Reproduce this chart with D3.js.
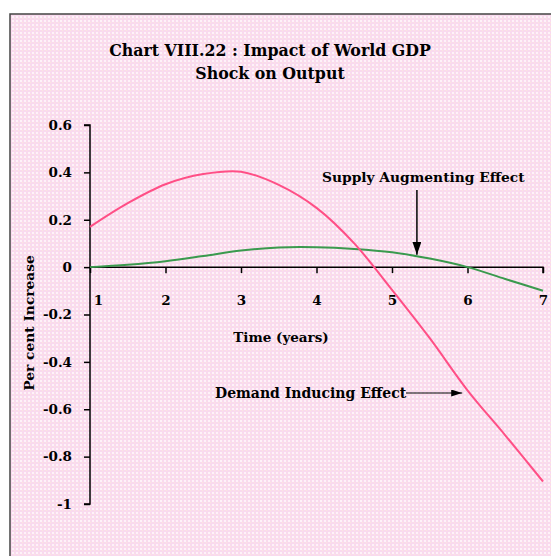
<!DOCTYPE html>
<html>
<head>
<meta charset="utf-8">
<script src="https://cdn.jsdelivr.net/npm/d3@7/dist/d3.min.js"></script>
<style>
  html, body { margin: 0; padding: 0; background: #ffffff; }
  svg { display: block; }
  text { font-family: "DejaVu Serif", "Liberation Serif", serif; font-weight: bold; fill: #000; }
</style>
</head>
<body>
<svg id="chart" width="551" height="556"></svg>
<script>
// ---- data ----
const years = [1, 1.5, 2, 2.5, 3, 3.5, 4, 4.5, 5, 5.5, 6, 6.5, 7];
const demandInducing = [0.17, 0.27, 0.35, 0.393, 0.403, 0.347, 0.25, 0.10, -0.096, -0.30, -0.52, -0.71, -0.905];
const supplyAugmenting = [0.0, 0.01, 0.025, 0.047, 0.07, 0.083, 0.084, 0.077, 0.063, 0.036, 0.0, -0.05, -0.10];
const xTicks = [1, 2, 3, 4, 5, 6, 7];
const yTicks = [0.6, 0.4, 0.2, 0, -0.2, -0.4, -0.6, -0.8, -1];
const yTickLabels = ["0.6", "0.4", "0.2", "0", "-0.2", "-0.4", "-0.6", "-0.8", "-1"];
const titleLines = ["Chart VIII.22 : Impact of World GDP", "Shock on Output"];
const xTitle = "Time (years)";
const yTitle = "Per cent Increase";
const labelSupply = "Supply Augmenting Effect";
const labelDemand = "Demand Inducing Effect";

const svg = d3.select("#chart");

// background pattern (pink dotted)
const defs = svg.append("defs");
const pat = defs.append("pattern").attr("id", "dots")
  .attr("width", 4).attr("height", 4).attr("patternUnits", "userSpaceOnUse");
pat.append("rect").attr("width", 4).attr("height", 4).attr("fill", "#f9daee");
pat.append("rect").attr("x", 0).attr("y", 0).attr("width", 2).attr("height", 2).attr("fill", "#fef2f8");
pat.append("rect").attr("x", 2).attr("y", 2).attr("width", 1).attr("height", 1).attr("fill", "#fce8dc");

const mk = (id, w, h) => {
  const m = defs.append("marker").attr("id", id)
    .attr("viewBox", "0 0 10 10").attr("refX", 10).attr("refY", 5)
    .attr("markerWidth", w).attr("markerHeight", h).attr("orient", "auto")
    .attr("markerUnits", "userSpaceOnUse").attr("preserveAspectRatio", "none");
  m.append("path").attr("d", "M0,0 L10,5 L0,10 Z").attr("fill", "#000");
};
mk("arrowBig", 13, 9);
mk("arrowSmall", 11, 7);

svg.append("rect").attr("x", 10).attr("y", 14).attr("width", 560).attr("height", 560)
  .attr("fill", "url(#dots)").attr("stroke", "#444").attr("stroke-width", 1.5);

// scales
const x = d3.scaleLinear().domain([1, 7]).range([90, 543]);
const y = d3.scaleLinear().domain([-1, 0.6]).range([504, 125]);

// title
svg.append("g").selectAll("text").data(titleLines).join("text")
  .attr("x", 270).attr("y", (d, i) => 56 + i * 23)
  .attr("text-anchor", "middle").attr("font-size", 15.8).text(d => d);

// y axis
const yAxis = svg.append("g").attr("transform", `translate(${x(1)},0)`)
  .call(d3.axisLeft(y).tickValues(yTicks).tickSize(6).tickPadding(12)
    .tickFormat((d, i) => yTickLabels[i]));
yAxis.selectAll("path, line").attr("stroke", "#000").attr("stroke-width", 1.5);
yAxis.select(".domain").attr("d", `M-6,${y(0.6)}H0V${y(-1)}H-6`);
yAxis.selectAll("text").attr("font-size", 13.5).attr("font-family", null);

// x axis at y=0
const xAxis = svg.append("g").attr("transform", `translate(0,${y(0)})`)
  .call(d3.axisBottom(x).tickValues(xTicks).tickSize(6).tickPadding(22).tickFormat(d3.format("d")));
xAxis.selectAll("path, line").attr("stroke", "#000").attr("stroke-width", 1.5);
xAxis.select(".domain").attr("d", `M${x(1)},0H${x(7)}V6`);
xAxis.selectAll("text").attr("font-size", 13.5).attr("font-family", null);
xAxis.selectAll(".tick").filter(d => d === 1).select("text").attr("dx", 8);

// axis titles
svg.append("text").attr("x", 281).attr("y", 342).attr("text-anchor", "middle")
  .attr("font-size", 13.5).text(xTitle);
svg.append("text").attr("transform", "translate(34,323) rotate(-90)")
  .attr("text-anchor", "middle").attr("font-size", 13.8).text(yTitle);

// lines
const line = d3.line().x(d => x(d[0])).y(d => y(d[1])).curve(d3.curveCatmullRom);
svg.append("path").datum(years.map((t, i) => [t, supplyAugmenting[i]]))
  .attr("d", line).attr("fill", "none").attr("stroke", "#3a9a4e").attr("stroke-width", 2);
svg.append("path").datum(years.map((t, i) => [t, demandInducing[i]]))
  .attr("d", line).attr("fill", "none").attr("stroke", "#ff4f86").attr("stroke-width", 2);

// annotations
svg.append("text").attr("x", 322).attr("y", 182).attr("font-size", 13.8).text(labelSupply);
svg.append("line").attr("x1", x(5.33)).attr("x2", x(5.33)).attr("y1", 190).attr("y2", y(0.052))
  .attr("stroke", "#000").attr("stroke-width", 1.5).attr("marker-end", "url(#arrowBig)");
svg.append("text").attr("x", 215).attr("y", 398).attr("font-size", 14).text(labelDemand);
svg.append("line").attr("x1", 406).attr("x2", x(5.93)).attr("y1", 393).attr("y2", 393)
  .attr("stroke", "#000").attr("stroke-width", 1.2).attr("marker-end", "url(#arrowSmall)");
</script>
</body>
</html>
